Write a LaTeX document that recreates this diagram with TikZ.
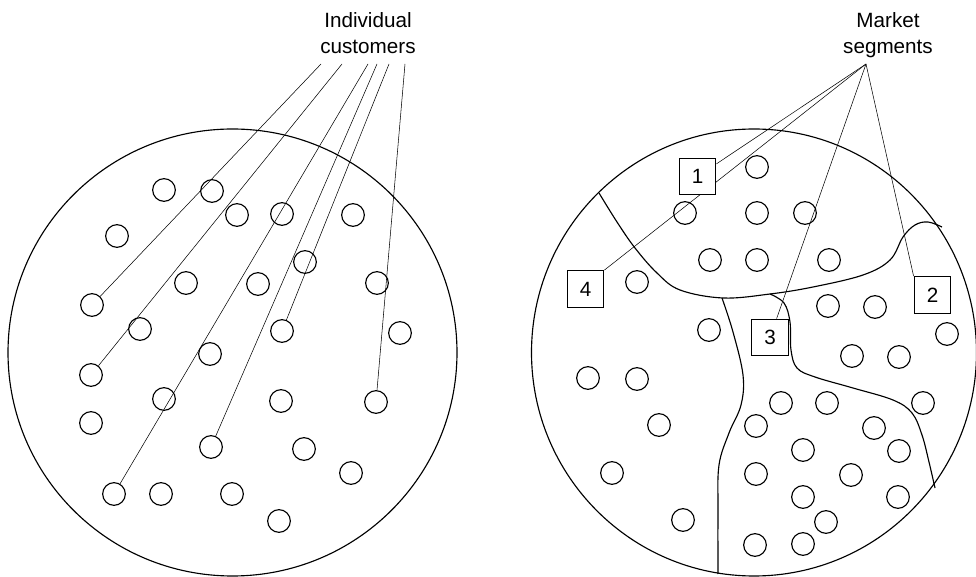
\documentclass[tikz,border=0pt]{standalone}
\usepackage{fontspec}
\setmainfont{Liberation Sans}
\usetikzlibrary{backgrounds}

\begin{document}
\begin{tikzpicture}[x=0.75pt,y=0.75pt,yscale=-1,xscale=1,line width=0.85pt,
  cust/.style={draw,circle,inner sep=0pt,minimum size=17pt},
  segbox/.style={draw,fill=white,inner sep=0pt,minimum size=27.5pt,font=\fontsize{15.5pt}{19.5pt}\selectfont},
  heading/.style={align=center,inner sep=0pt,anchor=north,font=\fontsize{15.5pt}{19.5pt}\selectfont}]
\useasboundingbox (0,0) rectangle (976,577);

%Shape: left big circle
\draw (232.5,352.5) ellipse [x radius=224.5, y radius=223.5];
%Shape: right big circle
\draw (754,352.5) ellipse [x radius=222.5, y radius=223.5];

% Left customers
\foreach \x/\y [count=\i] in {164/190, 212/191, 237/215, 282/214, 353/215, 117/236, 305/262,
    186/283, 258/284, 377/283, 92/305, 140/329, 282/331, 400/333, 210/354, 91/375,
    164/399, 281/401, 376/402, 91/423, 211/447, 304/449, 351/473, 114/494, 161/494,
    232/494, 279/521}
  \node[cust] (l\i) at (\x,\y) {};

% Right customers
\foreach \x/\y [count=\i] in {757/167, 685/213, 757/213, 805/213, 710/260, 757/260, 829/260,
    637/282, 828/306, 875/307, 709/330, 947/334, 852/356, 899/357, 588/378, 637/379,
    781/403, 827/403, 923/403, 659/425, 756/426, 874/428, 803/450, 899/451, 612/473,
    756/474, 851/475, 803/497, 898/497, 683/520, 826/522, 755/545, 803/544}
  \node[cust] (r\i) at (\x,\y) {};

%Curves: segment borders
\draw plot[smooth,tension=0.6] coordinates {(599,193) (617,222) (635,248) (657,273) (680,290)
  (723,298) (770,294) (813,287) (863,275) (890,260) (903,237) (915,225) (928,222) (942,227)};
\draw plot[smooth,tension=0.6] coordinates {(722,298) (733,332) (743,375) (741,405) (729,433)
  (719,465) (718,510) (718,574)};
\draw plot[smooth,tension=0.6] coordinates {(770,294) (784,303) (790,322) (791,350) (797,368)
  (815,377) (853,388) (893,400) (912,413) (922,435) (929,462) (935,488)};

% Segment boxes
\node[segbox] (b1) at (697.5,176.5) {1};
\node[segbox] (b2) at (932.5,295) {2};
\node[segbox] (b3) at (770,337.5) {3};
\node[segbox] (b4) at (585.5,289) {4};

% Text Node
\node[heading] (cust) at (368,11.5) {Individual\\customers};
% Text Node
\node[heading] (segs) at (888,11.5) {Market\\segments};

\coordinate (c1) at (321,64);
\coordinate (c2) at (342,64);
\coordinate (c3) at (368,64);
\coordinate (c4) at (377,64);
\coordinate (c5) at (389,64);
\coordinate (c6) at (405,64);
\coordinate (apex) at (866,64);

\begin{pgfonlayer}{background}
%Straight Lines: to customers
\draw (c1) -- (l11);
\draw (c2) -- (l16);
\draw (c3) -- (l24);
\draw (c4) -- (l21);
\draw (c5) -- (l13);
\draw (c6) -- (l19);
%Straight Lines: to segments
\draw (apex) -- (b1);
\draw (apex) -- (b4.north east);
\draw (apex) -- (b3);
\draw (apex) -- (b2.north west);
\end{pgfonlayer}

\end{tikzpicture}
\end{document}
